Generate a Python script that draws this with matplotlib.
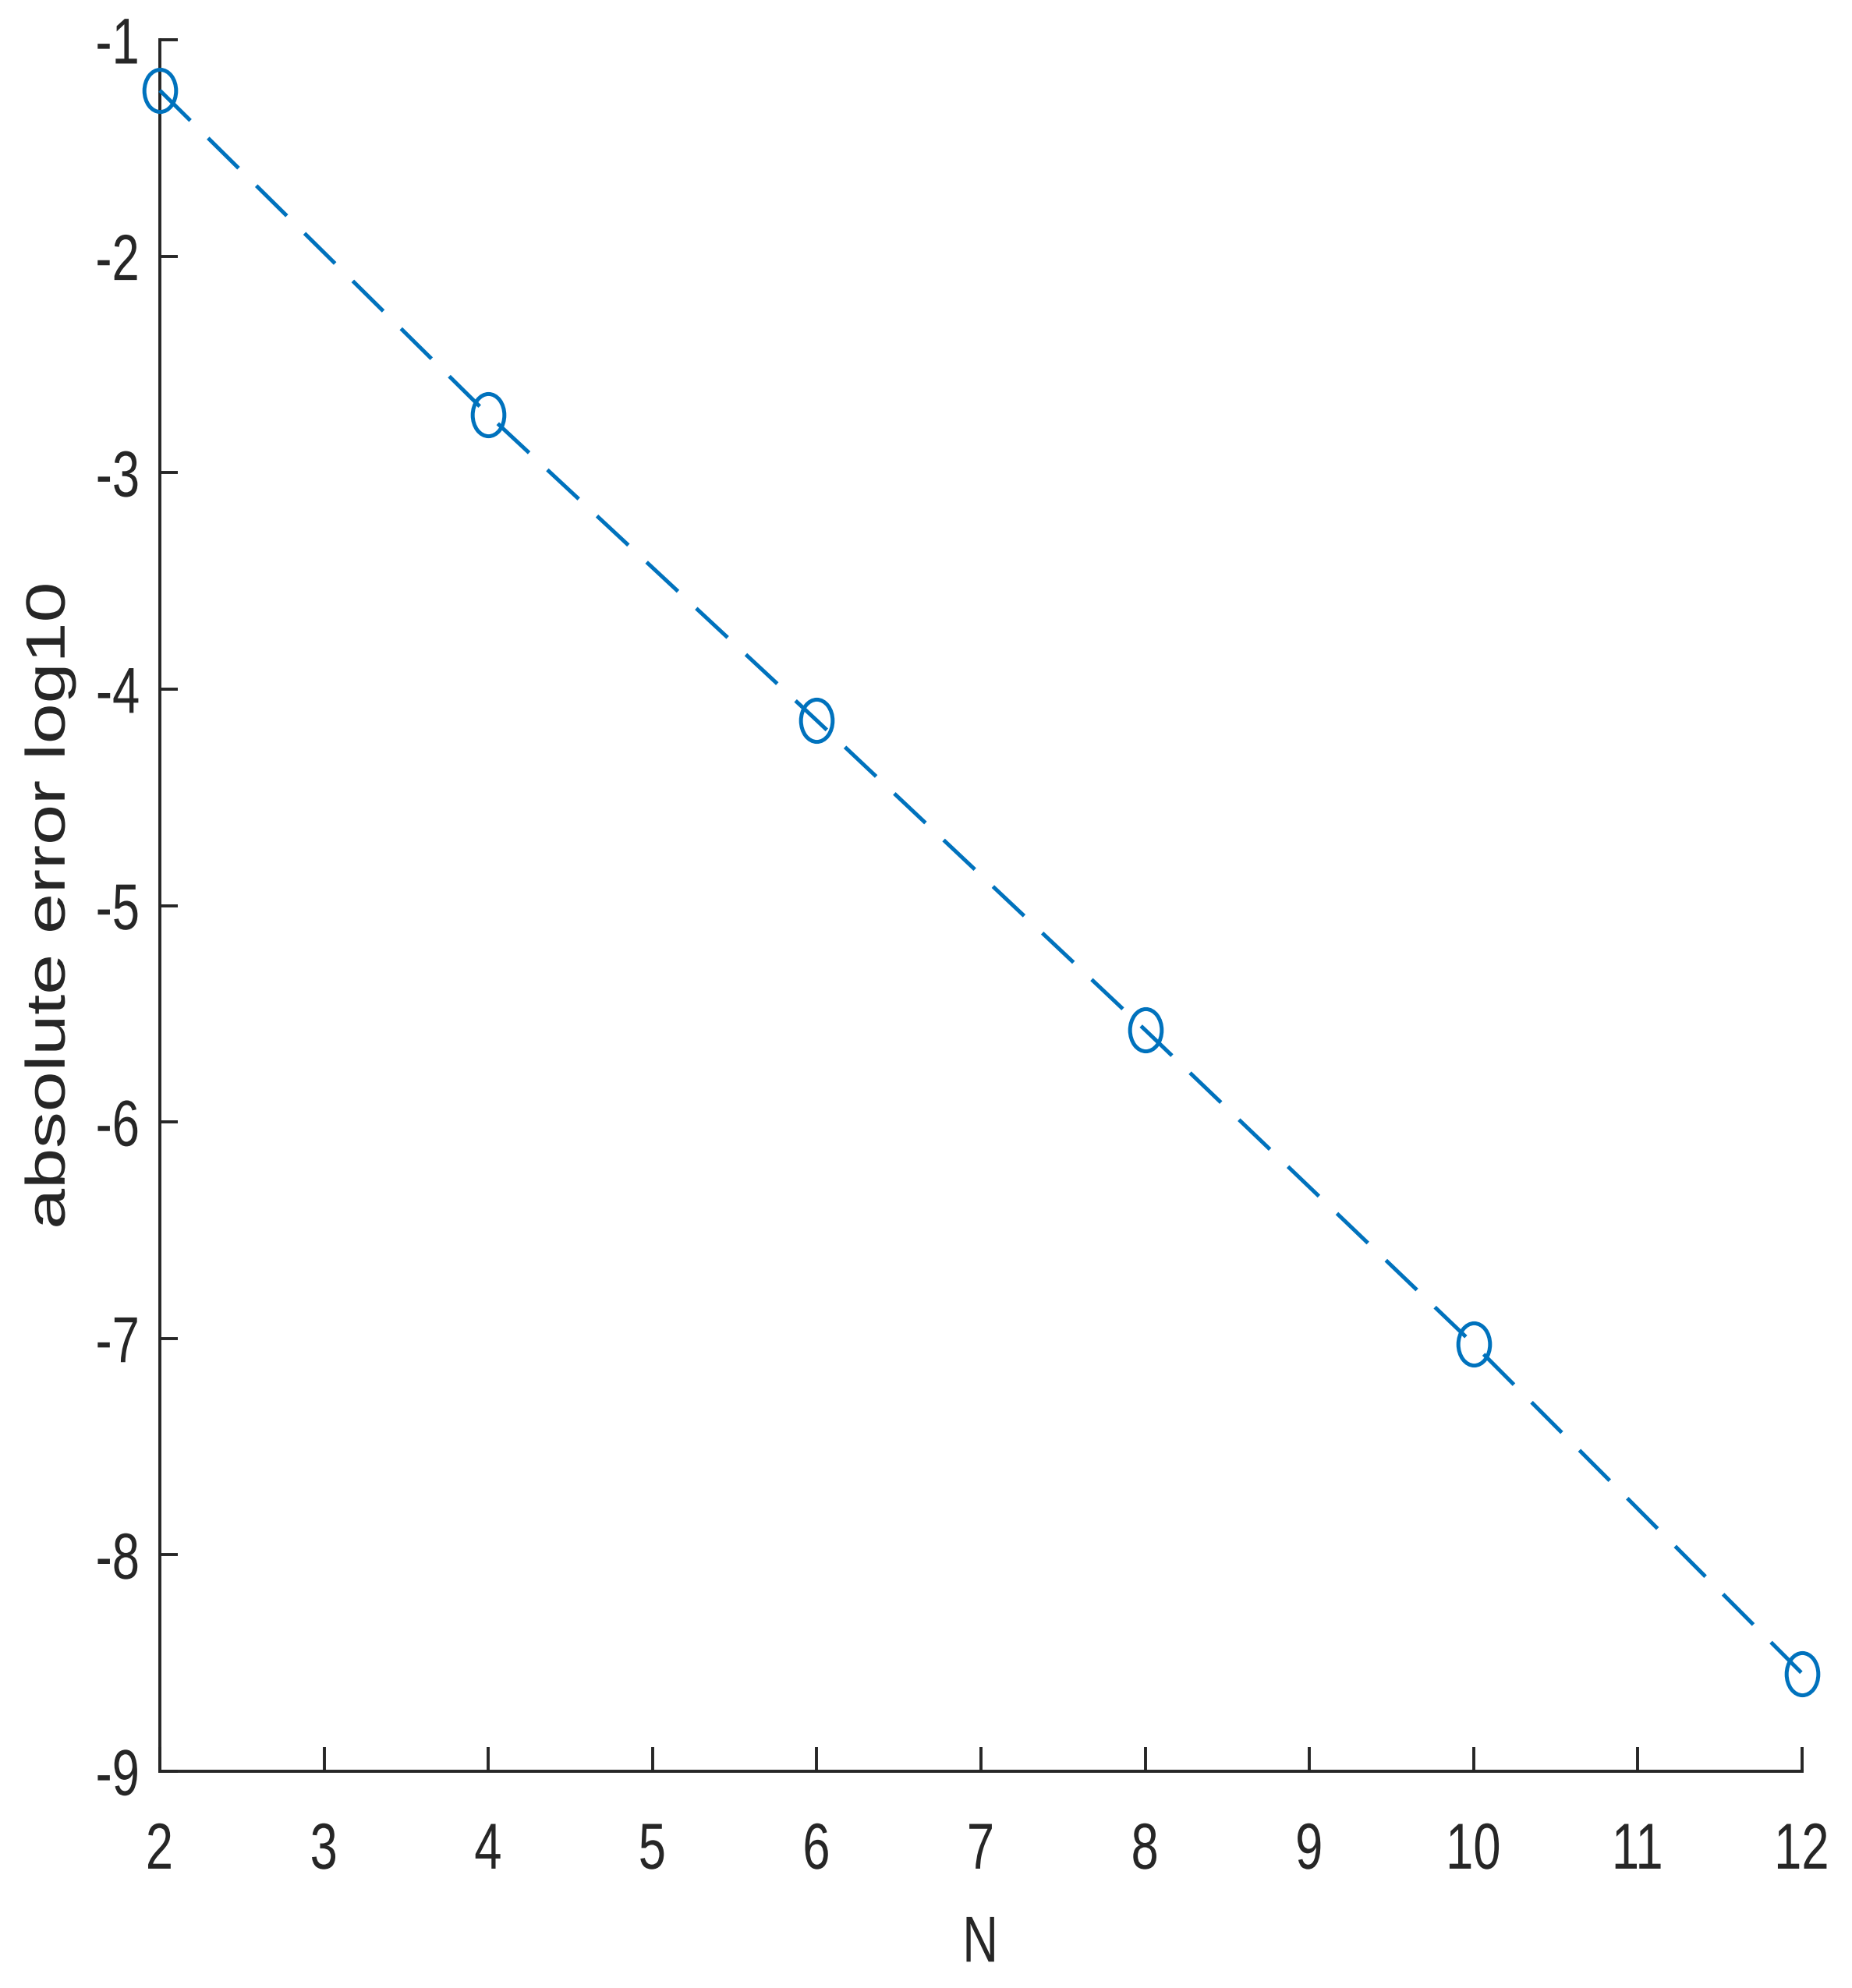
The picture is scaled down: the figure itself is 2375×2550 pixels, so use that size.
import matplotlib
matplotlib.use("Agg")
import matplotlib.pyplot as plt
from matplotlib.path import Path
from matplotlib.transforms import Affine2D
from matplotlib.patheffects import AbstractPathEffect

# ---- data ----
N_values = [2, 4, 6, 8, 10, 12]
log_abs_error = [-1.234, -2.733, -4.145, -5.575, -7.027, -8.548]
x_ticks = [2, 3, 4, 5, 6, 7, 8, 9, 10, 11, 12]
y_ticks = [-9, -8, -7, -6, -5, -4, -3, -2, -1]
x_label = "N"
y_label = "absolute error log10"

plt.rcParams['font.family'] = ['Liberation Sans', 'DejaVu Sans']
plt.rcParams['lines.scale_dashes'] = False

TEXT = "#262626"
BLUE = "#0072BD"


class Squish(AbstractPathEffect):
    """Draw text glyphs narrowed (condensed look of the reference)."""
    def __init__(self, sx=1.0, sy=1.0, anchor='center'):
        super().__init__()
        self.sx, self.sy, self.anchor = sx, sy, anchor

    def draw_path(self, renderer, gc, tpath, affine, rgbFace=None):
        v = tpath.vertices
        if len(v):
            if self.anchor == 'right':
                cx = v[:, 0].max()
            elif self.anchor == 'left':
                cx = v[:, 0].min()
            else:
                cx = 0.5 * (v[:, 0].min() + v[:, 0].max())
        else:
            cx = 0.0
        t = Affine2D().translate(-cx, 0).scale(self.sx, self.sy).translate(cx, 0) + affine
        renderer.draw_path(gc, tpath, t, rgbFace)


fig = plt.figure(figsize=(11.875, 12.75), dpi=200)
ax = fig.add_axes([205/2375, 1 - 2272/2550, (2311-205)/2375, (2272-51)/2550])

ellipse = Path.unit_circle().transformed(Affine2D().scale(0.75, 1.0))
ax.plot(N_values, log_abs_error, color=BLUE, lw=1.8, dashes=(19.8, 11.5),
        marker=ellipse, markersize=19.5, markerfacecolor='none',
        markeredgecolor=BLUE, markeredgewidth=1.8, clip_on=False, zorder=3)

ax.set_xlim(2, 12)
ax.set_ylim(-9, -1)
ax.set_xticks(x_ticks)
ax.set_yticks(y_ticks)
ax.set_xticklabels([str(v) for v in x_ticks], fontsize=30, color=TEXT)
ax.set_yticklabels([str(v) for v in y_ticks], fontsize=30, color=TEXT)
for lab in ax.get_xticklabels():
    lab.set_path_effects([Squish(sx=0.76, anchor='center')])
for lab in ax.get_yticklabels():
    lab.set_path_effects([Squish(sx=0.76, anchor='right')])

for s in ['top', 'right']:
    ax.spines[s].set_visible(False)
for s in ['left', 'bottom']:
    ax.spines[s].set_linewidth(1.4)
    ax.spines[s].set_color(TEXT)

ax.tick_params(axis='x', direction='in', length=11.2, width=1.4, color=TEXT, pad=23)
ax.tick_params(axis='y', direction='in', length=8.3, width=1.4, color=TEXT, pad=9)

xl = ax.set_xlabel(x_label, fontsize=30, color=TEXT)
xl.set_path_effects([Squish(sx=0.76, anchor='center')])
ax.xaxis.set_label_coords(0.5, -0.0825)
yl = ax.set_ylabel(y_label, fontsize=33.6, color=TEXT)
yl.set_path_effects([Squish(sy=0.76)])
ax.yaxis.set_label_coords(-0.049, 0.5)

fig.savefig("out.png", dpi=200, facecolor="white")
